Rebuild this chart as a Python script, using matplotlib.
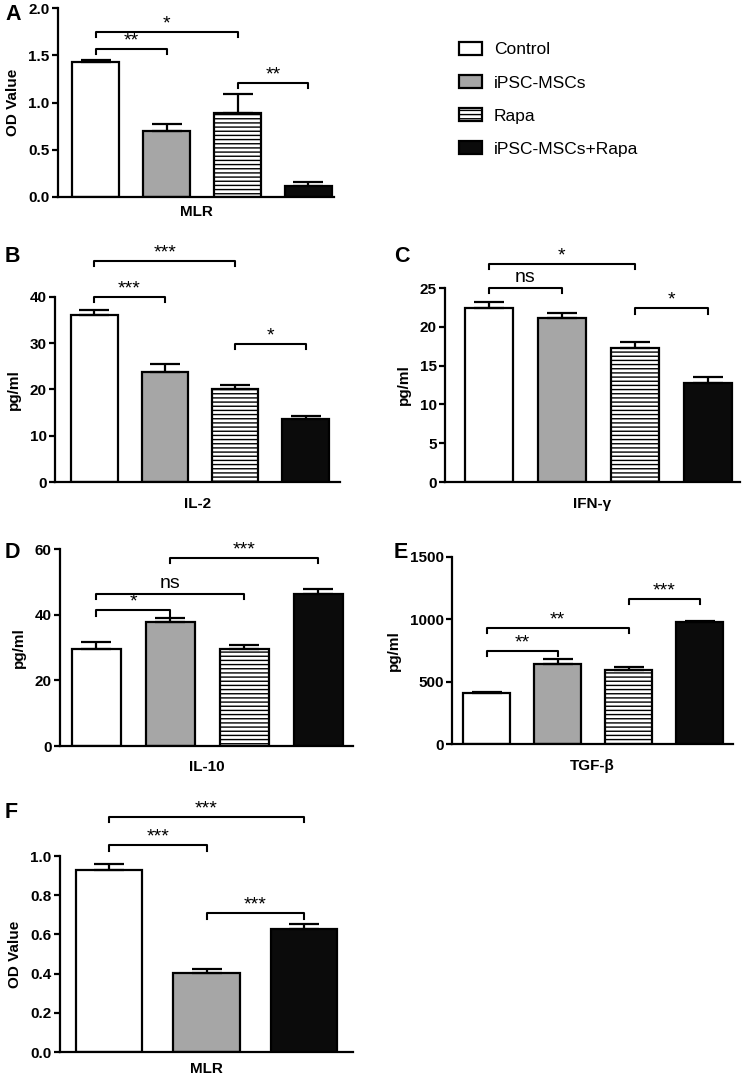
#!/usr/bin/env python3
"""Bar panels A-F: MLR, IL-2, IFN-g, IL-10, TGF-b, MLR."""
import numpy as np
import matplotlib
matplotlib.use("Agg")
import matplotlib.pyplot as plt
import matplotlib.patches as mpatches

plt.rcParams["font.family"] = ["Liberation Sans", "DejaVu Sans"]
plt.rcParams["hatch.linewidth"] = 1.0

W, H = 744, 1077
DPI = 100

groups = ["Control", "iPSC-MSCs", "Rapa", "iPSC-MSCs+Rapa"]
f_groups = ["Control", "iPSC-MSCs", "iPSC-MSCs+Rapa"]

a_mean = [1.43, 0.70, 0.89, 0.12]
a_err = [0.015, 0.075, 0.20, 0.035]
b_mean = [36.1, 23.8, 20.1, 13.6]
b_err = [1.1, 1.7, 0.9, 0.7]
c_mean = [22.4, 21.1, 17.3, 12.7]
c_err = [0.8, 0.7, 0.7, 0.8]
d_mean = [29.5, 37.8, 29.5, 46.3]
d_err = [2.1, 1.2, 1.3, 1.5]
e_mean = [409, 642, 594, 979]
e_err = [12, 40, 24, 10]
f_mean = [0.929, 0.403, 0.628]
f_err = [0.030, 0.020, 0.025]

# (left index, right index, bracket height, label)
a_sig = [(0, 1, 1.57, "**"), (0, 2, 1.75, "*"), (2, 3, 1.21, "**")]
b_sig = [(0, 1, 40.0, "***"), (0, 2, 47.8, "***"), (2, 3, 29.8, "*")]
c_sig = [(0, 1, 25.0, "ns"), (0, 2, 28.1, "*"), (2, 3, 22.4, "*")]
d_sig = [(0, 1, 41.4, "*"), (0, 2, 46.3, "ns"), (1, 3, 57.3, "***")]
e_sig = [(0, 1, 746, "**"), (0, 2, 930, "**"), (2, 3, 1163, "***")]
f_sig = [(0, 1, 1.056, "***"), (0, 2, 1.20, "***"), (1, 2, 0.709, "***")]

STYLE = {
    "Control": dict(color="white", hatch=None),
    "iPSC-MSCs": dict(color="#a6a6a6", hatch=None),
    "Rapa": dict(color="white", hatch="----"),
    "iPSC-MSCs+Rapa": dict(color="#0b0b0b", hatch=None),
}

fig = plt.figure(figsize=(W / DPI, H / DPI), dpi=DPI)


def px_axes(l, r, t, b):
    return fig.add_axes([l / W, 1 - b / H, (r - l) / W, (b - t) / H])


def panel(ax, names, means, errs, sigs, ylim, yticks, fmt, xlim, width,
          xlabel, ylabel, xpad):
    x = np.arange(len(names))
    for i, name in enumerate(names):
        st = STYLE[name]
        ax.bar(x[i], means[i], width=width, color=st["color"], edgecolor="black",
               linewidth=1.6, hatch=st["hatch"], zorder=2)
        ax.errorbar(x[i], means[i], yerr=[[0], [errs[i]]], fmt="none",
                    ecolor="black", elinewidth=1.6, capsize=11, capthick=1.6,
                    zorder=3)
    ax.set_xlim(*xlim)
    ax.set_ylim(*ylim)
    ax.set_yticks(yticks)
    ax.set_yticklabels([fmt.format(v) for v in yticks], fontweight="bold",
                       fontsize=11)
    ax.set_xticks([])
    for s in ("top", "right"):
        ax.spines[s].set_visible(False)
    for s in ("left", "bottom"):
        ax.spines[s].set_linewidth(1.6)
    ax.tick_params(axis="y", direction="out", length=4, width=1.6, pad=2)
    ax.set_xlabel(xlabel, fontweight="bold", fontsize=11, labelpad=xpad)
    ax.set_ylabel(ylabel, fontweight="bold", fontsize=11, labelpad=6)

    drop = (ylim[1] - ylim[0]) * 0.028
    for i, j, y, txt in sigs:
        ax.plot([x[i], x[i], x[j], x[j]], [y - drop, y, y, y - drop],
                color="black", linewidth=1.5, clip_on=False, zorder=4)
        if txt == "ns":
            ax.annotate(txt, ((x[i] + x[j]) / 2, y), xytext=(0, 4.5),
                        textcoords="offset points", ha="center", va="baseline",
                        fontsize=14, annotation_clip=False)
        else:
            ax.annotate(txt, ((x[i] + x[j]) / 2, y), xytext=(0, 2.5),
                        textcoords="offset points", ha="center", va="baseline",
                        fontsize=14, annotation_clip=False)


axA = px_axes(58, 334, 8, 197)
panel(axA, groups, a_mean, a_err, a_sig, (0, 2.0), [0, 0.5, 1.0, 1.5, 2.0],
      "{:.1f}", (-0.53, 3.36), 0.66, "MLR", "OD Value", 6)

axB = px_axes(55, 340, 297, 482)
panel(axB, groups, b_mean, b_err, b_sig, (0, 40), [0, 10, 20, 30, 40],
      "{:.0f}", (-0.56, 3.49), 0.66, "IL-2", "pg/ml", 11)

axC = px_axes(445, 740, 288, 482)
panel(axC, groups, c_mean, c_err, c_sig, (0, 25), [0, 5, 10, 15, 20, 25],
      "{:.0f}", (-0.6, 3.44), 0.66, "IFN-γ", "pg/ml", 11)

axD = px_axes(60, 353, 549, 746)
panel(axD, groups, d_mean, d_err, d_sig, (0, 60), [0, 20, 40, 60],
      "{:.0f}", (-0.49, 3.47), 0.66, "IL-10", "pg/ml", 10)

axE = px_axes(452, 733, 557, 744)
panel(axE, groups, e_mean, e_err, e_sig, (0, 1500), [0, 500, 1000, 1500],
      "{:.0f}", (-0.49, 3.47), 0.66, "TGF-β", "pg/ml", 11)

axF = px_axes(60, 353, 856, 1052)
panel(axF, f_groups, f_mean, f_err, f_sig, (0, 1.0), [0, 0.2, 0.4, 0.6, 0.8, 1.0],
      "{:.1f}", (-0.5, 2.5), 0.68, "MLR", "OD Value", 7)

for lab, (px, py) in zip("ABCDEF", [(5, 15), (5, 257), (394, 257),
                                      (5, 553), (394, 553), (5, 813)]):
    fig.text(px / W, 1 - py / H, lab, fontsize=15.5, fontweight="bold",
             ha="left", va="center")

handles = [mpatches.Patch(facecolor=STYLE[g]["color"], edgecolor="black",
                          linewidth=1.6, hatch=STYLE[g]["hatch"], label=g)
           for g in groups]
fig.legend(handles=handles, loc="upper left", frameon=False,
           bbox_to_anchor=(459 / W, 1 - 42 / H), borderpad=0, borderaxespad=0,
           fontsize=12.5, handlelength=1.3, handleheight=0.75,
           handletextpad=0.7, labelspacing=1.02)

fig.savefig("out.png", dpi=DPI)
